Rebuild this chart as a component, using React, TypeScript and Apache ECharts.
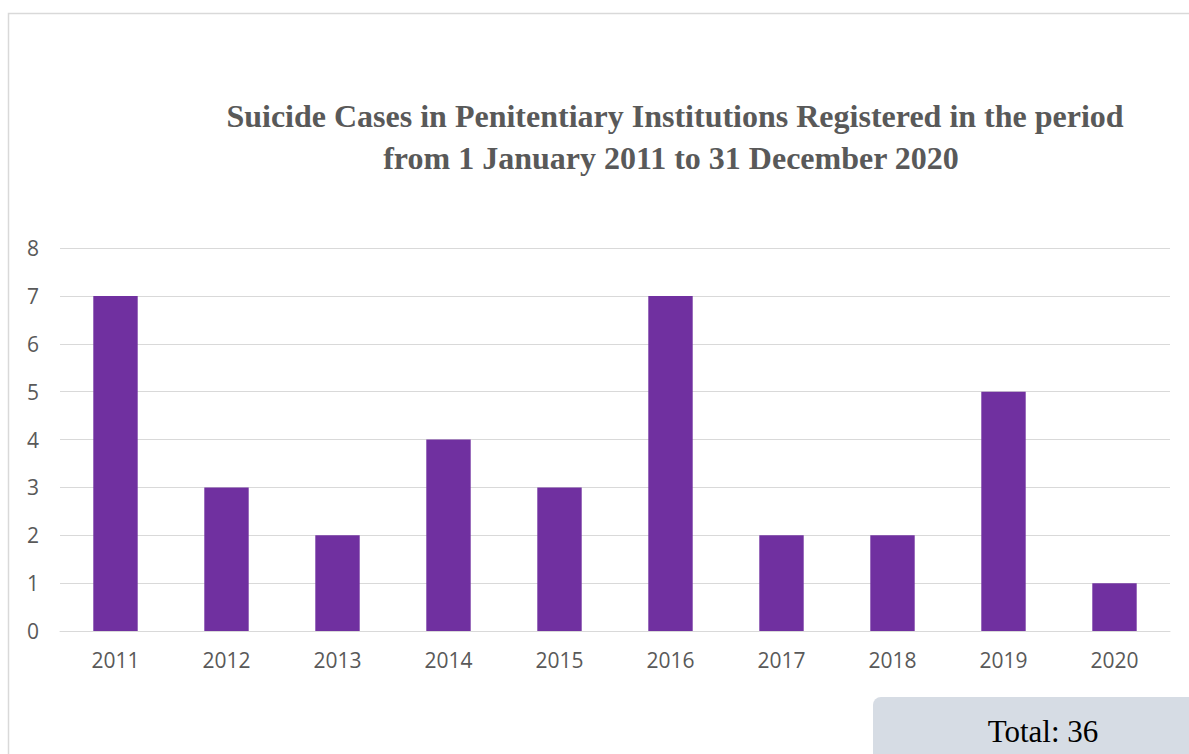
import React, { useEffect, useRef } from "react";
import * as echarts from "echarts";

const years = ["2011", "2012", "2013", "2014", "2015", "2016", "2017", "2018", "2019", "2020"];
const cases = [7, 3, 2, 4, 3, 7, 2, 2, 5, 1];
const titleLines = [
  "Suicide Cases in Penitentiary Institutions Registered in the period",
  "from 1 January 2011 to 31 December 2020",
];
const totalLabel = "Total: 36";

export default function App() {
  const ref = useRef<HTMLDivElement>(null);
  useEffect(() => {
    const chart = echarts.init(ref.current!, null, { renderer: "svg" });
    chart.setOption({
      animation: false,
      backgroundColor: "#ffffff",
      grid: { left: 60, right: 19, top: 248, bottom: 123, containLabel: false },
      xAxis: {
        type: "category",
        data: years,
        axisLine: { show: true, lineStyle: { color: "#d9d9d9", width: 1 } },
        axisTick: { show: false },
        axisLabel: { color: "#595959", fontSize: 21, fontFamily: "Open Sans", margin: 18 },
      },
      yAxis: {
        type: "value",
        min: 0,
        max: 8,
        interval: 1,
        axisLine: { show: false },
        axisTick: { show: false },
        splitLine: { lineStyle: { color: "#d9d9d9", width: 1 } },
        axisLabel: { color: "#595959", fontSize: 21, fontFamily: "Open Sans", margin: 27, align: "center" },
      },
      series: [
        {
          type: "bar",
          data: cases,
          barWidth: "40%",
          itemStyle: { color: "#7030a0" },
        },
      ],
      graphic: [
        {
          type: "rect",
          shape: { x: 8.5, y: 13.5, width: 1400, height: 1000 },
          style: { fill: "none", stroke: "#d9d9d9", lineWidth: 1.5 },
          silent: true,
          z: -1,
        },
        {
          type: "text",
          x: 675,
          y: 116,
          style: {
            text: titleLines[0],
            fill: "#595959",
            font: "bold 32px 'Liberation Serif', 'Times New Roman', serif",
            textAlign: "center",
            textVerticalAlign: "middle",
          },
        },
        {
          type: "text",
          x: 671,
          y: 158,
          style: {
            text: titleLines[1],
            fill: "#595959",
            font: "bold 32px 'Liberation Serif', 'Times New Roman', serif",
            textAlign: "center",
            textVerticalAlign: "middle",
          },
        },
        {
          type: "rect",
          shape: { x: 873, y: 697, width: 400, height: 100, r: 8 },
          style: { fill: "#d6dce4" },
        },
        {
          type: "text",
          x: 1043,
          y: 731,
          style: {
            text: totalLabel,
            fill: "#000000",
            font: "31px 'Liberation Serif', 'Times New Roman', serif",
            textAlign: "center",
            textVerticalAlign: "middle",
          },
        },
      ],
    });
    return () => chart.dispose();
  }, []);
  return (
    <div
      ref={ref}
      style={{ position: "fixed", left: 0, top: 0, width: 1189, height: 754 }}
    />
  );
}
